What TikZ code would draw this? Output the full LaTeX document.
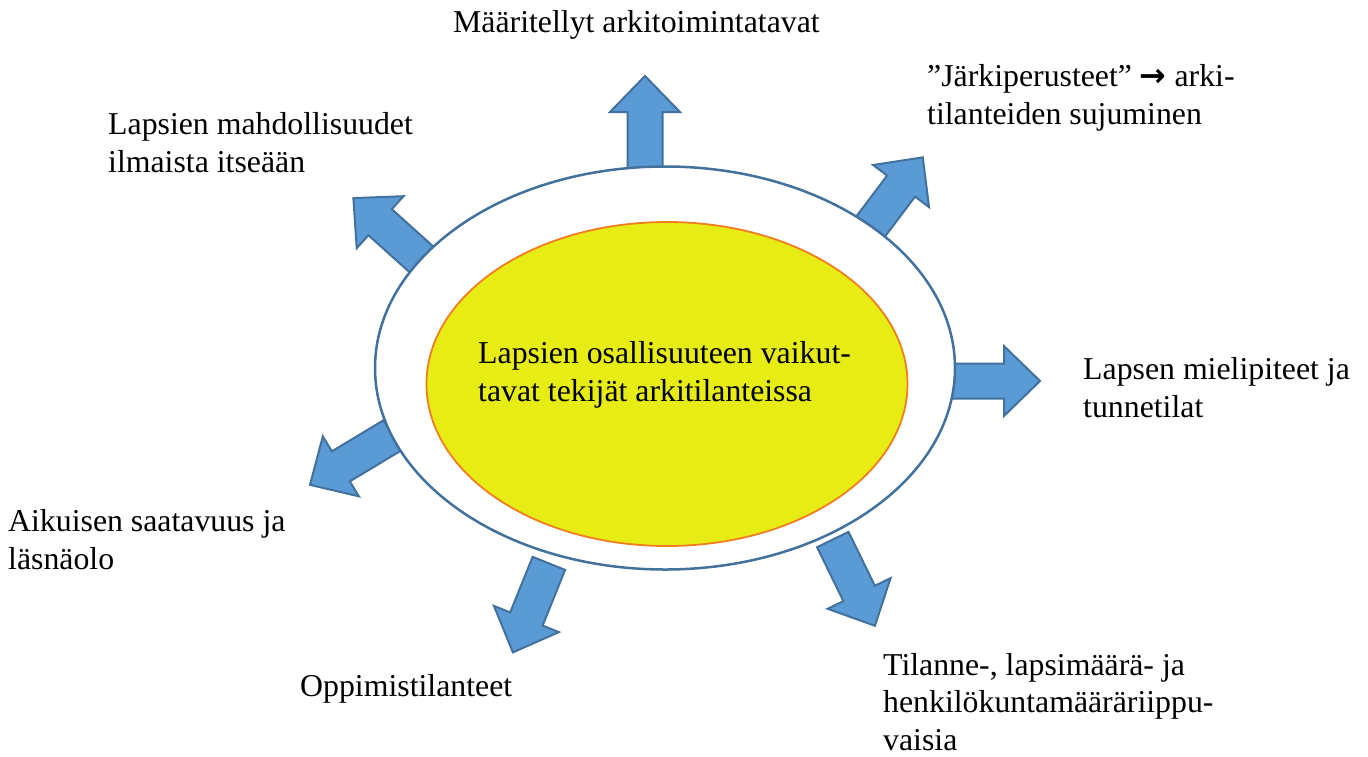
\documentclass[tikz,border=0pt]{standalone}
\usepackage{fontspec}
\setmainfont{Liberation Serif}
\newfontfamily\arrowfont{DejaVu Sans}
\usetikzlibrary{shapes.geometric}

\definecolor{arrowblue}{HTML}{5B9BD5}
\definecolor{edgeblue}{HTML}{41719C}
\definecolor{coreyellow}{HTML}{E7EC14}
\definecolor{coreorange}{HTML}{F07D1E}

\begin{document}
\begin{tikzpicture}[
  x=1pt, y=-1pt,
  lbl/.style={
    anchor=base west, inner sep=0pt, align=left,
    font=\fontsize{31.8}{37.5}\selectfont
  },
  rimring/.style={
    ellipse, draw=edgeblue, fill=white, line width=2.5pt
  },
  coredisc/.style={
    ellipse, draw=coreorange, fill=coreyellow, line width=1.8pt
  },
  blockarrow/.pic={
    \draw[fill=arrowblue, draw=edgeblue, line width=2pt, line join=miter]
      (-5,-17.5) -- (55,-17.5) -- (55,-35) -- (91,0)
      -- (55,35) -- (55,17.5) -- (-5,17.5) -- cycle;
  },
]
\useasboundingbox (0,0) rectangle (1368,756);

%% -- Arrows out of the ring ------------------------------------------
\foreach \bx/\by/\ang in {645/167/90, 868/230/53, 949/381/0, 835/544/-64,
                          547/568/-112, 388/438/-149, 421/259/138}
  \pic[rotate=\ang] at (\bx,\by) {blockarrow};

%% -- Ring and core ---------------------------------------------------
\node[rimring, minimum width=580pt, minimum height=403pt]  (rim)  at (665,368) {};
\node[coredisc, minimum width=481pt, minimum height=324pt] (core) at (667,384) {};
% (multi-line labels: base = baseline of the last line)
\node[lbl] (coretext) at (478,401)
      {Lapsien osallisuuteen vaikut-\\tavat tekijät arkitilanteissa};

%% -- Labels ----------------------------------------------------------
\node[lbl] (routines) at (453,32)  {Määritellyt arkitoimintatavat};
\node[lbl] (reasons)  at (927,124)
      {”Järkiperusteet” {\arrowfont\bfseries →} arki-\\tilanteiden sujuminen};
\node[lbl] (feelings) at (1083,417) {Lapsen mielipiteet ja\\tunnetilat};
\node[lbl] (staffing) at (883,750)
      {Tilanne-, lapsimäärä- ja\\henkilökuntamääräriippu-\\vaisia};
\node[lbl] (learning) at (300,696)  {Oppimistilanteet};
\node[lbl] (adult)    at (8,569)    {Aikuisen saatavuus ja\\läsnäolo};
\node[lbl] (express)  at (108,172)  {Lapsien mahdollisuudet\\ilmaista itseään};

\end{tikzpicture}
\end{document}
